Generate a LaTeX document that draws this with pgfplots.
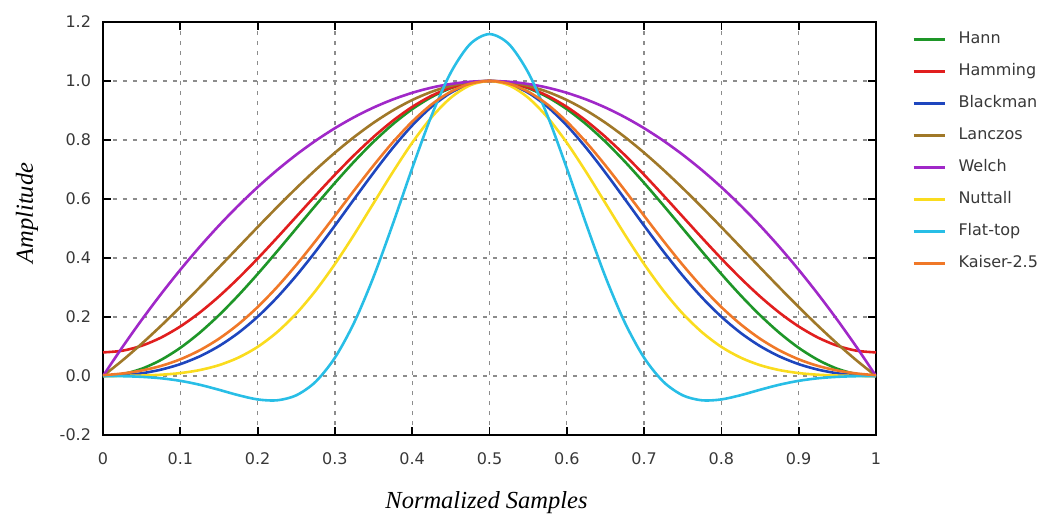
\documentclass[border=0pt]{standalone}
\usepackage{pgfplots}
\usepackage{pgfplotstable}
\pgfplotsset{compat=1.18}
\usepackage{fontspec}
\setmainfont{DejaVu Sans}
\newfontfamily\labelfont{Liberation Serif}

\definecolor{cHann}{RGB}{30,150,40}
\definecolor{cHamming}{RGB}{225,30,30}
\definecolor{cBlackman}{RGB}{30,70,190}
\definecolor{cLanczos}{RGB}{160,120,40}
\definecolor{cWelch}{RGB}{160,40,200}
\definecolor{cNuttall}{RGB}{250,220,30}
\definecolor{cFlat}{RGB}{40,190,230}
\definecolor{cKaiser}{RGB}{240,120,40}

\pgfplotstableread{
x      hann    hamming blackman lanczos welch  nuttall flattop  kaiser
0.000  0.00000 0.08000 0.00000  0.00000 0.0000 0.00000  0.00000 0.00268
0.025  0.00616 0.08566 0.00224  0.05241 0.0975 0.00031 -0.00061 0.00850
0.050  0.02447 0.10251 0.00919  0.10929 0.1900 0.00151 -0.00283 0.01855
0.075  0.05450 0.13014 0.02152  0.17001 0.2775 0.00430 -0.00769 0.03413
0.100  0.09549 0.16785 0.04021  0.23387 0.3600 0.00991 -0.01638 0.05653
0.125  0.14645 0.21473 0.06645  0.30011 0.4375 0.02004 -0.02959 0.08696
0.150  0.20611 0.26962 0.10138  0.36789 0.5100 0.03670 -0.04668 0.12630
0.175  0.27300 0.33116 0.14598  0.43633 0.5775 0.06217 -0.06497 0.17513
0.200  0.34549 0.39785 0.20077  0.50455 0.6400 0.09867 -0.07938 0.23352
0.225  0.42178 0.46804 0.26570  0.57161 0.6975 0.14808 -0.08250 0.30095
0.250  0.50000 0.54000 0.34000  0.63662 0.7500 0.21154 -0.06550 0.37630
0.275  0.57822 0.61196 0.42214  0.69865 0.7975 0.28912 -0.01962 0.45782
0.300  0.65451 0.68215 0.50979  0.75683 0.8400 0.37949  0.06188 0.54318
0.325  0.72700 0.74884 0.59998  0.81033 0.8775 0.47981  0.18152 0.62954
0.350  0.79389 0.81038 0.68917  0.85840 0.9100 0.58570  0.33603 0.71369
0.375  0.85355 0.86527 0.77355  0.90032 0.9375 0.69150  0.51559 0.79245
0.400  0.90451 0.91215 0.84923  0.93549 0.9600 0.79077  0.70438 0.86237
0.425  0.94551 0.94986 0.91253  0.96339 0.9775 0.87680  0.88249 0.92043
0.450  0.97553 0.97749 0.96025  0.98364 0.9900 0.94341  1.02898 0.96389
0.475  0.99384 0.99434 0.98993  0.99586 0.9975 0.98557  1.12537 0.99091
0.500  1.00000 1.00000 1.00000  1.00000 1.0000 1.00000  1.15900 1.00000
0.525  0.99384 0.99434 0.98993  0.99586 0.9975 0.98557  1.12537 0.99091
0.550  0.97553 0.97749 0.96025  0.98364 0.9900 0.94341  1.02898 0.96389
0.575  0.94551 0.94986 0.91253  0.96339 0.9775 0.87680  0.88249 0.92043
0.600  0.90451 0.91215 0.84923  0.93549 0.9600 0.79077  0.70438 0.86237
0.625  0.85355 0.86527 0.77355  0.90032 0.9375 0.69150  0.51559 0.79245
0.650  0.79389 0.81038 0.68917  0.85840 0.9100 0.58570  0.33603 0.71369
0.675  0.72700 0.74884 0.59998  0.81033 0.8775 0.47981  0.18152 0.62954
0.700  0.65451 0.68215 0.50979  0.75683 0.8400 0.37949  0.06188 0.54318
0.725  0.57822 0.61196 0.42214  0.69865 0.7975 0.28912 -0.01962 0.45782
0.750  0.50000 0.54000 0.34000  0.63662 0.7500 0.21154 -0.06550 0.37630
0.775  0.42178 0.46804 0.26570  0.57161 0.6975 0.14808 -0.08250 0.30095
0.800  0.34549 0.39785 0.20077  0.50455 0.6400 0.09867 -0.07938 0.23352
0.825  0.27300 0.33116 0.14598  0.43633 0.5775 0.06217 -0.06497 0.17513
0.850  0.20611 0.26962 0.10138  0.36789 0.5100 0.03670 -0.04668 0.12630
0.875  0.14645 0.21473 0.06645  0.30011 0.4375 0.02004 -0.02959 0.08696
0.900  0.09549 0.16785 0.04021  0.23387 0.3600 0.00991 -0.01638 0.05653
0.925  0.05450 0.13014 0.02152  0.17001 0.2775 0.00430 -0.00769 0.03413
0.950  0.02447 0.10251 0.00919  0.10929 0.1900 0.00151 -0.00283 0.01855
0.975  0.00616 0.08566 0.00224  0.05241 0.0975 0.00031 -0.00061 0.00850
1.000  0.00000 0.08000 0.00000  0.00000 0.0000 0.00000  0.00000 0.00268
}\windows

\begin{document}
\begin{tikzpicture}
\useasboundingbox (-103pt,-79pt) rectangle (941pt,435pt);
\begin{axis}[
  at={(0pt,0pt)}, anchor=south west,
  scale only axis, width=773pt, height=413pt,
  xmin=0, xmax=1, ymin=-0.2, ymax=1.2,
  xtick={0,0.1,0.2,0.3,0.4,0.5,0.6,0.7,0.8,0.9,1},
  xticklabels={0,0.1,0.2,0.3,0.4,0.5,0.6,0.7,0.8,0.9,1},
  ytick={-0.2,0,0.2,0.4,0.6,0.8,1.0,1.2},
  yticklabels={-0.2,0.0,0.2,0.4,0.6,0.8,1.0,1.2},
  tick align=inside, major tick length=8pt,
  tick style={black, line width=1.8pt},
  axis line style={black, line width=1.8pt},
  grid=major,
  major grid style={dash pattern=on 4pt off 6pt, black!45, line width=1.3pt},
  tick label style={font=\fontsize{16}{19}\selectfont, text=black!78},
  xticklabel style={yshift=-14pt},
  yticklabel style={xshift=-8.5pt},
  xlabel={\labelfont\itshape Normalized Samples},
  ylabel={\labelfont\itshape Amplitude},
  xlabel style={font=\fontsize{24.5}{28}\selectfont, at={(rel axis cs:0.4961,0)}, anchor=base, yshift=-73pt},
  ylabel style={font=\fontsize{24.5}{28}\selectfont, at={(rel axis cs:-0.0983,0.5375)}, anchor=center},
  legend style={at={(rel axis cs:1.0466,0.9758)}, anchor=north west, draw=none, fill=none,
    inner sep=0pt, outer sep=0pt, row sep=16pt, column sep=12.5pt,
    font=\fontsize{16}{19}\selectfont,
    nodes={inner sep=0pt, text height=12pt, text depth=4pt, text=black!78}},
  legend cell align=left,
  legend image code/.code={\draw[#1, line width=3pt] (0pt,0pt) -- (31pt,0pt);},
  every axis plot/.append style={line width=2.6pt, smooth},
]
\addplot[cHann] table[x=x, y=hann] {\windows};
\addlegendentry{Hann}
\addplot[cHamming] table[x=x, y=hamming] {\windows};
\addlegendentry{Hamming}
\addplot[cBlackman] table[x=x, y=blackman] {\windows};
\addlegendentry{Blackman}
\addplot[cLanczos] table[x=x, y=lanczos] {\windows};
\addlegendentry{Lanczos}
\addplot[cWelch] table[x=x, y=welch] {\windows};
\addlegendentry{Welch}
\addplot[cNuttall] table[x=x, y=nuttall] {\windows};
\addlegendentry{Nuttall}
\addplot[cFlat] table[x=x, y=flattop] {\windows};
\addlegendentry{Flat-top}
\addplot[cKaiser] table[x=x, y=kaiser] {\windows};
\addlegendentry{Kaiser-2.5}
\end{axis}
\end{tikzpicture}
\end{document}
